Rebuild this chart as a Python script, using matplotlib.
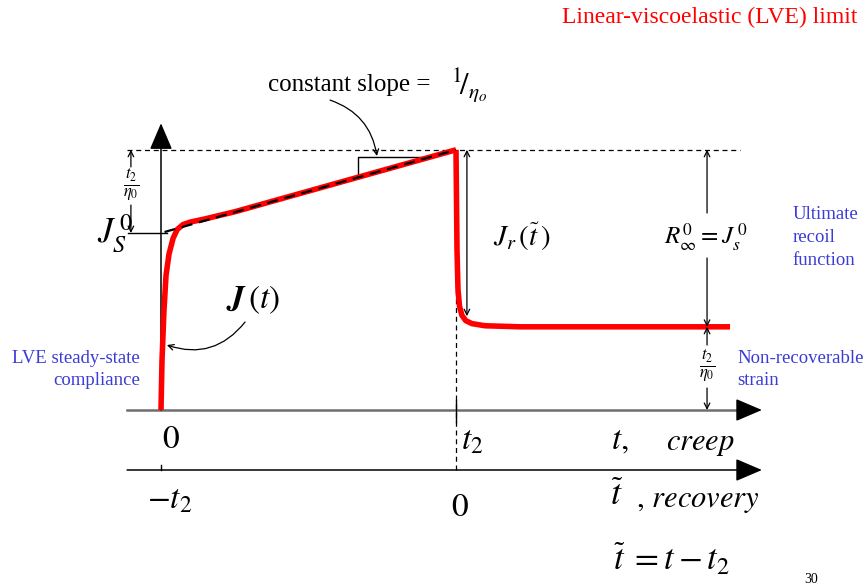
import numpy as np
import matplotlib.pyplot as plt

plt.rcParams['font.family'] = ['Liberation Serif', 'DejaVu Serif']
plt.rcParams['mathtext.fontset'] = 'stix'

# creep / recovery in reduced units: t2 = 1, J_s0 = 1
t2 = 1.0
J_s0 = 1.0
t2_eta0 = 0.47          # t2 / eta0
J_top = J_s0 + t2_eta0

# creep compliance J(t), 0 <= t <= t2
creep_t = [0.0, 0.0034, 0.010, 0.017, 0.027, 0.041, 0.055, 0.075, 0.10, 0.15, 0.25, 0.40, 0.70, 1.0]
creep_J = [0.0, 0.28, 0.56, 0.76, 0.88, 0.97, 1.02, 1.048, 1.062, 1.08, 1.12, 1.19, 1.33, 1.47]

# recovery after unloading at t2
recov_t = [1.0, 1.0034, 1.0068, 1.0120, 1.020, 1.033, 1.054, 1.098, 1.217, 1.50, 1.929]
recov_J = [1.47, 0.904, 0.678, 0.585, 0.535, 0.505, 0.488, 0.476, 0.470, 0.470, 0.470]

# steady-state asymptote J_s0 + t/eta0
asym_t = [0.012, 1.0]
asym_J = [J_s0 + t2_eta0 * asym_t[0], J_top]

BLUE = '#3b3bd6'
RED = '#ff0000'

fig = plt.figure(figsize=(8.65, 5.87), dpi=100)
ax = fig.add_axes([0, 0, 1, 1])
ax.set_xlim(-161 / 295, 704 / 295)
ax.set_ylim(-177 / 177, 410 / 177)
ax.axis('off')

x_left, x_right = -0.115, 2.037
J_rec = -0.339   # recovery time axis

head_kw = dict(arrowstyle='-|>,head_length=0.75,head_width=0.32', color='black',
               lw=1.1, mutation_scale=22, shrinkA=0, shrinkB=0)

# axes
ax.plot([x_left, x_right - 0.03], [0, 0], color='#6e6e6e', lw=1.8)
ax.annotate('', xy=(x_right, 0), xytext=(x_right - 0.06, 0), arrowprops=head_kw)
ax.annotate('', xy=(x_right, J_rec), xytext=(x_left, J_rec), arrowprops=head_kw)
ax.annotate('', xy=(0, 1.62), xytext=(0, 0), arrowprops=head_kw)
ax.plot([0, 0], [J_rec, J_rec + 0.03], color='black', lw=1)
ax.plot([t2, t2], [-0.068, 0.056], color='black', lw=1)

# reference lines
ax.plot([x_left, 1.963], [J_top, J_top], color='black', lw=0.9, ls=(0, (4, 3)))
ax.plot([t2, t2], [J_top, J_rec], color='black', lw=0.9, ls=(0, (4, 3)))
ax.plot([-0.112, 0.02], [J_s0, J_s0], color='black', lw=1)

# slope bracket
ax.plot([0.668, 0.668, 0.912], [J_s0 + t2_eta0 * 0.668, 1.429, 1.429], color='black', lw=1)

# curves
ax.plot(creep_t, creep_J, color=RED, lw=4, solid_capstyle='butt', zorder=3)
ax.plot(recov_t, recov_J, color=RED, lw=4, solid_capstyle='butt', zorder=3)
ax.plot(asym_t, asym_J, color='black', lw=1.6, ls=(0, (5, 3)), zorder=4)

arrow_kw = dict(arrowstyle='->', color='black', lw=0.9, mutation_scale=10,
                shrinkA=0, shrinkB=0)

# t2/eta0 at top left
ax.annotate('', xy=(-0.102, J_top), xytext=(-0.102, 1.373), arrowprops=arrow_kw)
ax.annotate('', xy=(-0.102, J_s0), xytext=(-0.102, 1.158), arrowprops=arrow_kw)
ax.text(-0.102, 1.265, r'$\frac{t_2}{\eta_0}$', fontsize=17, ha='center', va='center')
ax.text(-0.155, 1.0, r'$J_S^{\,0}$', fontsize=25, ha='center', va='center')

# recoverable part
ax.annotate('', xy=(1.037, J_top), xytext=(1.037, 0.53),
            arrowprops=dict(arrow_kw, arrowstyle='<->'))
ax.text(1.224, 0.977, r'$J_r\,(\widetilde{t}\,)$', fontsize=21, ha='center', va='center')

ax.annotate('', xy=(1.851, J_top), xytext=(1.851, 1.113), arrowprops=arrow_kw)
ax.annotate('', xy=(1.851, t2_eta0), xytext=(1.851, 0.859), arrowprops=arrow_kw)
ax.text(1.846, 0.977, r'$R_\infty^{0} = J_s^{\,0}$', fontsize=18, ha='center', va='center')

ax.annotate('', xy=(1.851, t2_eta0), xytext=(1.851, 0.367), arrowprops=arrow_kw)
ax.annotate('', xy=(1.851, 0), xytext=(1.851, 0.124), arrowprops=arrow_kw)
ax.text(1.851, 0.245, r'$\frac{t_2}{\eta_0}$', fontsize=17, ha='center', va='center')

# labels
ax.text(2.142, 0.975, 'Ultimate\nrecoil\nfunction', color=BLUE, fontsize=13.5,
        ha='left', va='center', linespacing=1.45)
ax.text(1.953, 0.229, 'Non-recoverable\nstrain', color=BLUE, fontsize=13.5,
        ha='left', va='center', linespacing=1.45)
ax.text(-0.071, 0.229, 'LVE steady-state\ncompliance', color=BLUE, fontsize=13.5,
        ha='right', va='center', multialignment='right', linespacing=1.45)

ax.text(2.359, 2.215, 'Linear-viscoelastic (LVE) limit', color=RED, fontsize=17,
        ha='right', va='center')

ax.text(0.363, 1.836, 'constant slope = ', fontsize=18, ha='left', va='center')
ax.text(1.045, 1.83, r'$^{1}\!/_{\eta_o}$', fontsize=22, ha='center', va='center')
ax.annotate('', xy=(0.732, 1.435), xytext=(0.573, 1.751),
            arrowprops=dict(arrow_kw, connectionstyle='arc3,rad=-0.3'))

ax.text(0.312, 0.621, r'$\boldsymbol{J}\,(t)$', fontsize=24, ha='center', va='center')
ax.annotate('', xy=(0.02, 0.367), xytext=(0.285, 0.497),
            arrowprops=dict(arrow_kw, connectionstyle='arc3,rad=-0.35'))

# time axis labels
ax.text(0.034, -0.169, r'$0$', fontsize=24, ha='center', va='center')
ax.text(1.054, -0.175, r'$t_2$', fontsize=24, ha='center', va='center')
ax.text(1.556, -0.175, r'$t,$', fontsize=24, ha='center', va='center')
ax.text(1.827, -0.19, r'$creep$', fontsize=22, ha='center', va='center')

ax.text(0.03, -0.508, r'$-t_2$', fontsize=24, ha='center', va='center')
ax.text(1.014, -0.554, r'$0$', fontsize=24, ha='center', va='center')
ax.text(1.546, -0.49, r'$\widetilde{t}$', fontsize=26, ha='center', va='center')
ax.text(1.610, -0.51, r'$,\, recovery$', fontsize=22, ha='left', va='center')

ax.text(1.732, -0.847, r'$\widetilde{t}\; = t - t_2$', fontsize=25, ha='center', va='center')

ax.text(2.205, -0.955, '30', fontsize=10, ha='center', va='center')

fig.savefig('out.png', dpi=100)
